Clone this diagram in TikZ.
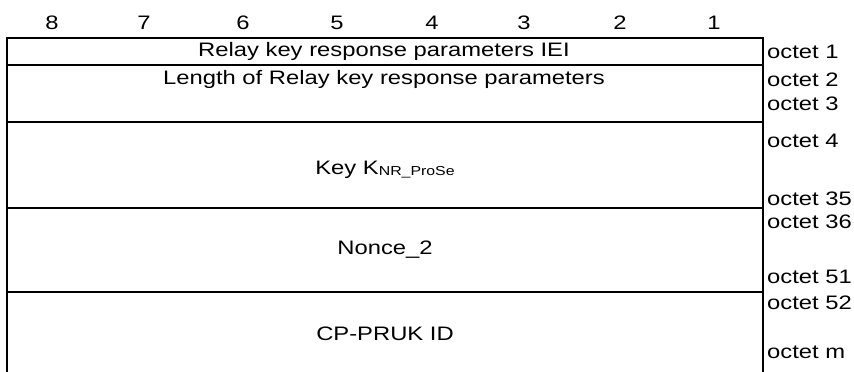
\documentclass[tikz,border=0pt]{standalone}
\usepackage{fontspec}
\setmainfont{Liberation Sans}[FakeStretch=1.22]
\begin{document}
\begin{tikzpicture}[x=1pt,y=-1pt,
  frame/.style={line width=2.4pt},
  lbl/.style={inner sep=0pt,font=\fontsize{19.5}{22}\selectfont},
  oct/.style={lbl,anchor=west}]
\useasboundingbox (0,0) rectangle (854,372);
% bit numbers
\foreach \n/\x in {8/52,7/144,6/243,5/337,4/432,3/524,2/620,1/714}
  \node[lbl] (b\n) at (\x,23) {\n};
% frame
\draw[frame] (7,372) -- (7,38) -- (763,38) -- (763,372);
\draw[frame] (7,65) -- (763,65);
\draw[frame] (7,122) -- (763,122);
\draw[frame] (7,208) -- (763,208);
\draw[frame] (7,292) -- (763,292);
% fields
\node[lbl] (iei) at (384,51) {Relay key response parameters IEI};
\node[lbl] (len) at (384,79) {Length of Relay key response parameters};
\node[lbl] (key) at (385,170) {Key K\raisebox{-1pt}{\fontsize{13}{15}\selectfont NR\_ProSe}};
\node[lbl] (nonce) at (385,250) {Nonce\_2};
\node[lbl] (pruk) at (385,334) {CP-PRUK ID};
% octet labels
\node[oct] (o1) at (767,52) {octet 1};
\node[oct] (o2) at (767,80) {octet 2};
\node[oct] (o3) at (767,104) {octet 3};
\node[oct] (o4) at (767,141) {octet 4};
\node[oct] (o35) at (767,199) {octet 35};
\node[oct] (o36) at (767,222) {octet 36};
\node[oct] (o51) at (767,277) {octet 51};
\node[oct] (o52) at (767,303) {octet 52};
\node[oct] (om) at (767,352) {octet m};
\end{tikzpicture}
\end{document}
